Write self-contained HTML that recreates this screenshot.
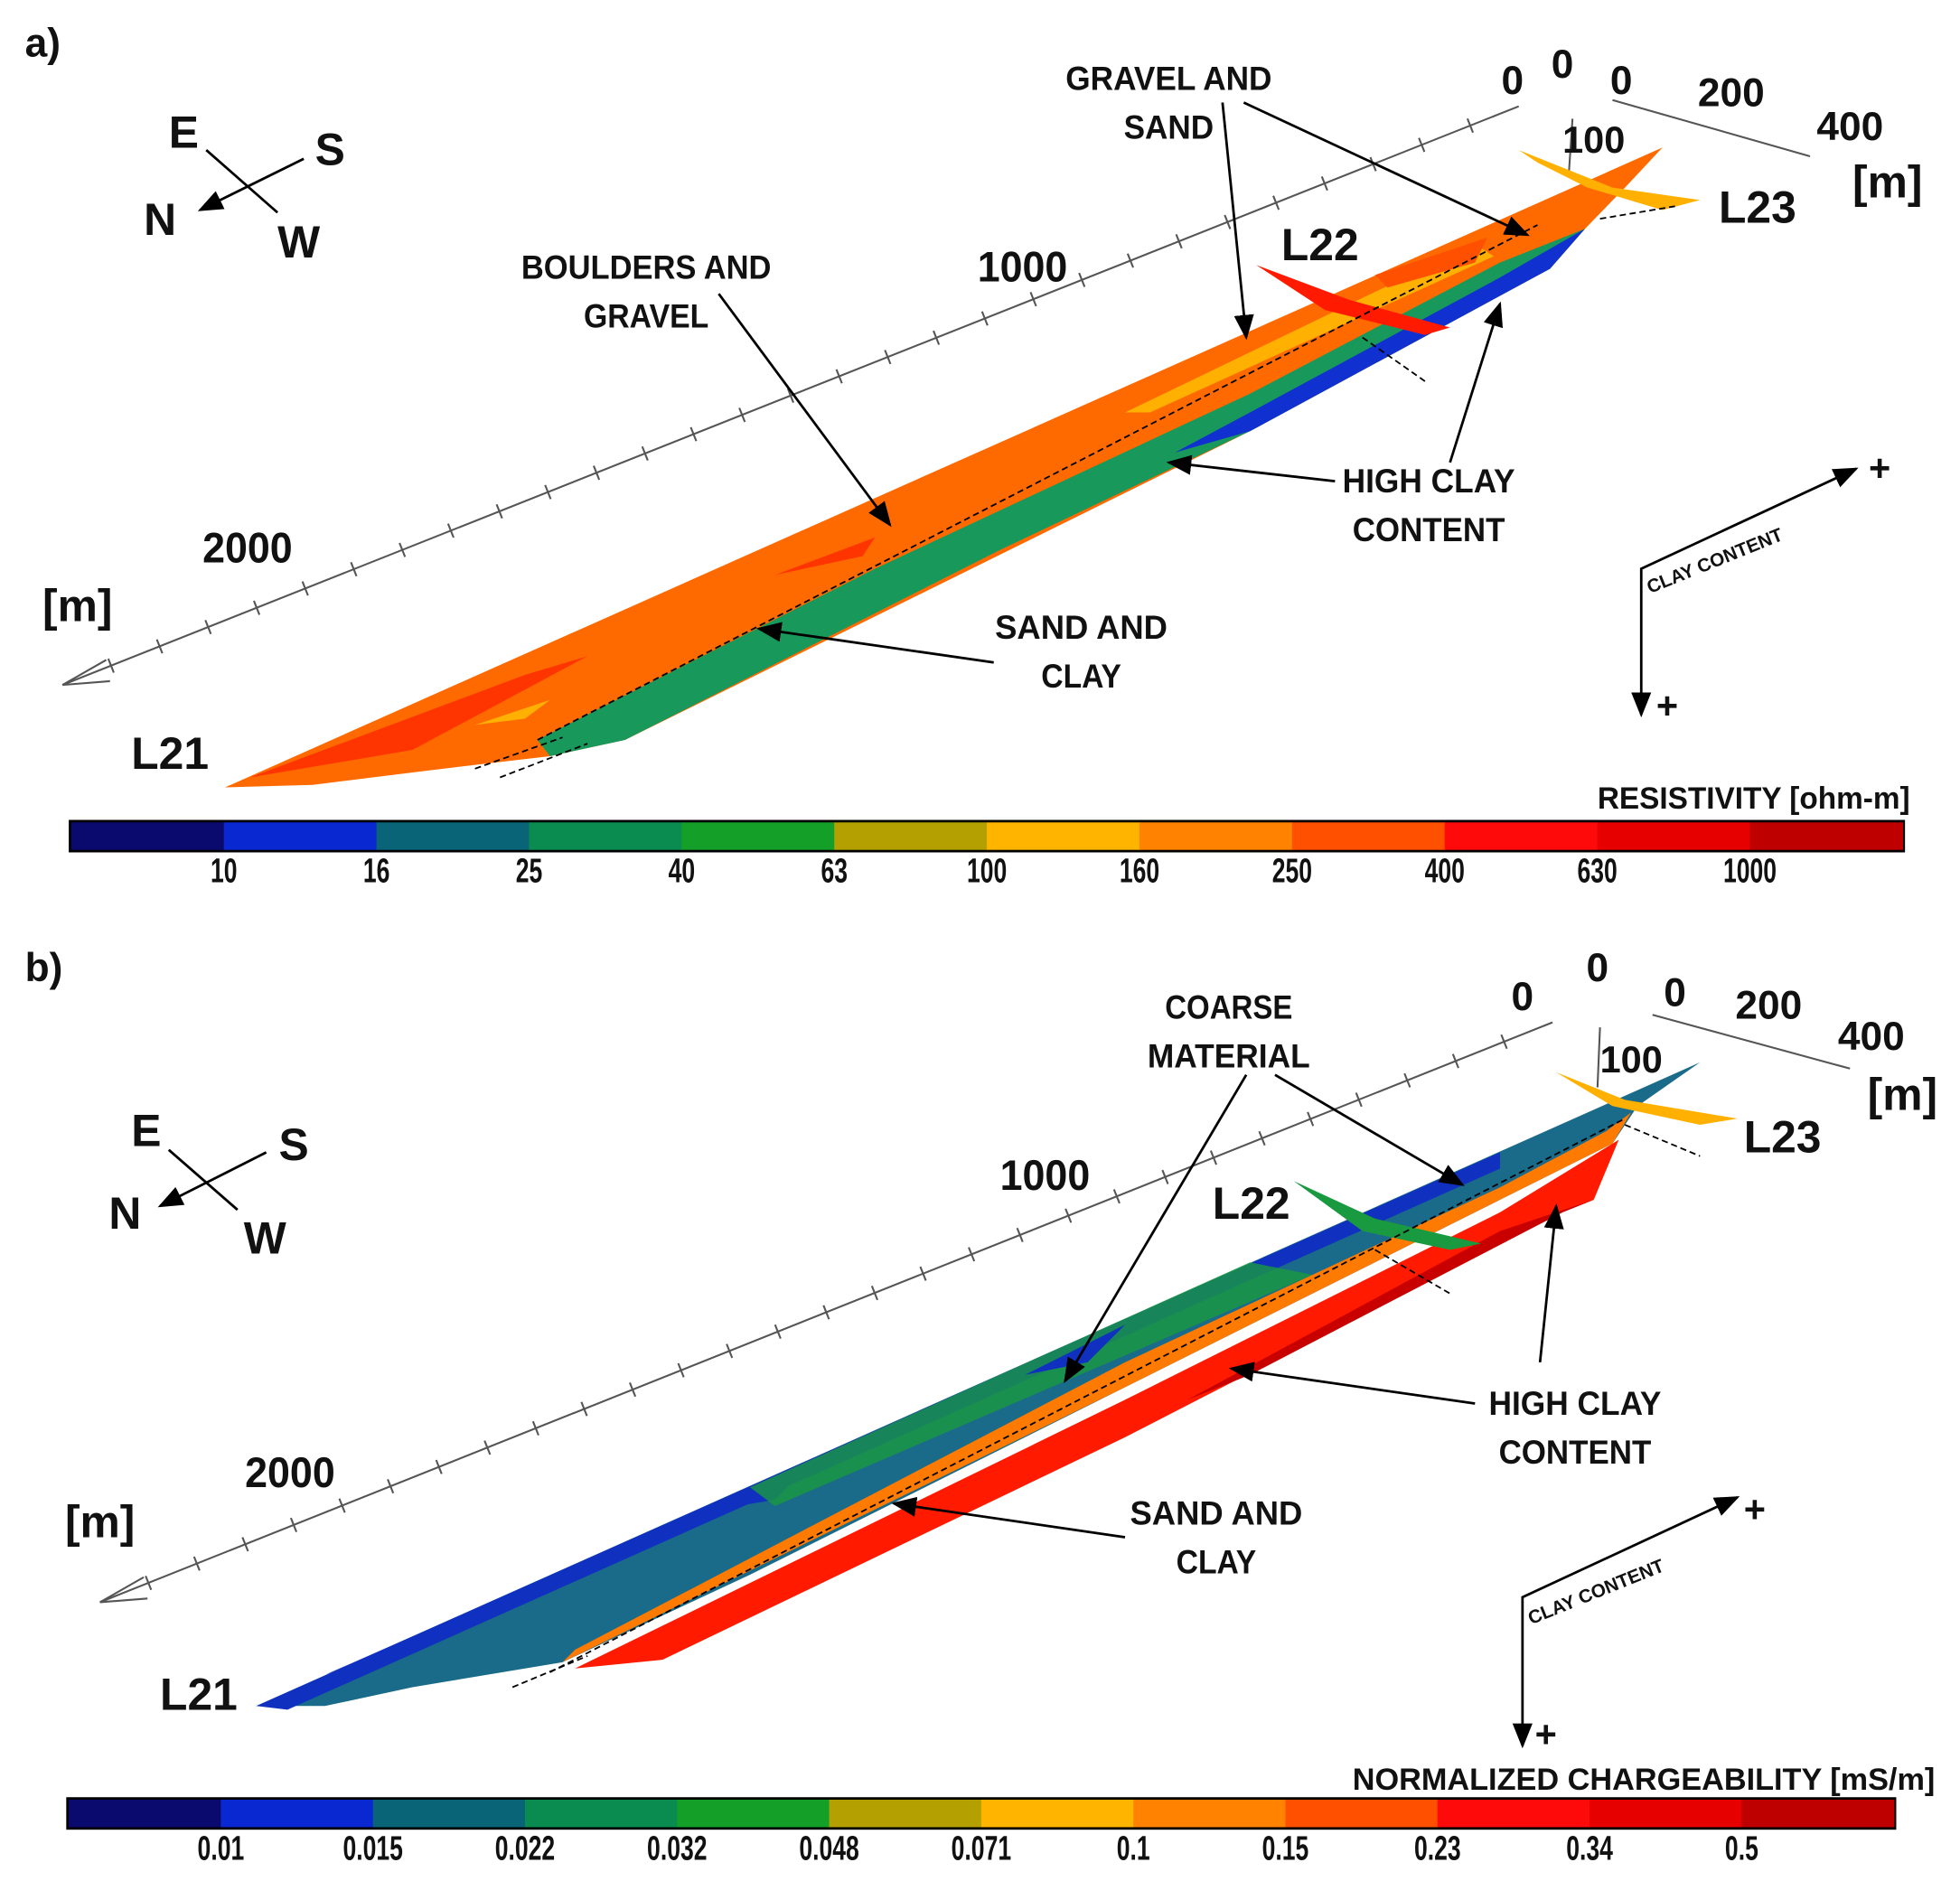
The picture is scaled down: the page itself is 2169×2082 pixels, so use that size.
<!DOCTYPE html>
<html><head><meta charset="utf-8"><style>
html,body{margin:0;padding:0;background:#fff;overflow:hidden}
svg{display:block}
text{font-family:"Liberation Sans Narrow","Liberation Sans",sans-serif;font-weight:bold;fill:#111}
</style></head><body>
<svg id="fig" width="2169" height="2082" viewBox="0 0 1568 1505" xmlns="http://www.w3.org/2000/svg">
<defs><marker id="ar" markerWidth="10" markerHeight="10" refX="9" refY="5" orient="auto"><path d="M0,1 L10,5 L0,9 z" fill="#000"/></marker></defs>

<!-- PANEL A -->
<g>
<text x="20" y="45" font-size="32">a)</text>
<g stroke="#000" stroke-width="2">
<line x1="165" y1="120" x2="222" y2="170"/><line x1="243" y1="127" x2="160" y2="168" marker-end="url(#ar)"/>
</g>
<text x="135" y="118" font-size="36">E</text>
<text x="252" y="132" font-size="36">S</text>
<text x="115" y="188" font-size="36">N</text>
<text x="222" y="206" font-size="36">W</text>

<g stroke="#555" stroke-width="1.5" fill="none">
<line x1="50" y1="548" x2="1215" y2="85"/><polyline points="85,528 50,548 88,545"/>
<line x1="1258" y1="95" x2="1255" y2="140"/><line x1="1290" y1="80" x2="1448" y2="125"/>
</g>
<g id="ticksA" stroke="#555" stroke-width="1.5"></g>
<text x="198" y="450" font-size="34" text-anchor="middle" textLength="72" lengthAdjust="spacingAndGlyphs">2000</text>
<text x="818" y="225" font-size="34" text-anchor="middle" textLength="72" lengthAdjust="spacingAndGlyphs">1000</text>
<text x="1210" y="75" font-size="32" text-anchor="middle">0</text>
<text x="1250" y="62" font-size="32" text-anchor="middle">0</text>
<text x="1297" y="75" font-size="32" text-anchor="middle">0</text>
<text x="1385" y="85" font-size="32" text-anchor="middle">200</text>
<text x="1480" y="112" font-size="32" text-anchor="middle">400</text>
<text x="1275" y="122" font-size="30" text-anchor="middle">100</text>
<text x="1510" y="158" font-size="36" text-anchor="middle">[m]</text>
<text x="62" y="497" font-size="36" text-anchor="middle">[m]</text>

<g>
<polygon points="180,630 1330,118 1300,150 1268,183 1240,215 1000,345 500,592 440,605 380,612 330,618 250,628" fill="#ff6a00"/>
<polygon points="430,592 700,455 1000,315 1200,210 1268,183 1240,215 1000,345 800,440 500,592 440,605" fill="#18985a"/>
<polygon points="940,362 1000,330 1200,222 1268,183 1240,215 1000,345" fill="#1030d0"/>
<polygon points="200,622 420,540 470,525 330,600" fill="#ff2000" opacity="0.7"/>
<polygon points="620,460 700,430 690,445" fill="#ff2000" opacity="0.7"/>
<polygon points="380,580 440,560 420,575" fill="#ffb000"/>
<polygon points="900,330 1180,195 1195,205 920,330" fill="#ffb000"/>
<polygon points="1100,220 1190,190 1180,210 1110,230" fill="#ff5000"/>
<polygon points="1215,120 1290,150 1360,160 1330,168 1270,150 1230,130" fill="#ffb000"/>
<polygon points="1005,212 1080,240 1160,262 1140,268 1060,248" fill="#ff1a00"/>
<line x1="430" y1="592" x2="1230" y2="180" stroke="#000" stroke-width="1.3" stroke-dasharray="5,3"/>
<line x1="380" y1="615" x2="450" y2="590" stroke="#000" stroke-width="1.3" stroke-dasharray="5,3"/>
<line x1="400" y1="622" x2="470" y2="595" stroke="#000" stroke-width="1.3" stroke-dasharray="5,3"/>
<line x1="1280" y1="175" x2="1340" y2="165" stroke="#000" stroke-width="1.3" stroke-dasharray="5,3"/>
<line x1="1090" y1="270" x2="1140" y2="305" stroke="#000" stroke-width="1.3" stroke-dasharray="5,3"/>
</g>
<text x="105" y="615" font-size="36">L21</text>
<text x="1025" y="208" font-size="36">L22</text>
<text x="1375" y="178" font-size="36">L23</text>

<g font-size="27" text-anchor="middle">
<text x="935" y="72" textLength="165" lengthAdjust="spacingAndGlyphs">GRAVEL AND</text>
<text x="935" y="111" textLength="72" lengthAdjust="spacingAndGlyphs">SAND</text>
<text x="517" y="223" textLength="200" lengthAdjust="spacingAndGlyphs">BOULDERS AND</text>
<text x="517" y="262" textLength="100" lengthAdjust="spacingAndGlyphs">GRAVEL</text>
<text x="1143" y="394" textLength="138" lengthAdjust="spacingAndGlyphs">HIGH CLAY</text>
<text x="1143" y="433" textLength="122" lengthAdjust="spacingAndGlyphs">CONTENT</text>
<text x="865" y="511" textLength="138" lengthAdjust="spacingAndGlyphs">SAND AND</text>
<text x="865" y="550" textLength="64" lengthAdjust="spacingAndGlyphs">CLAY</text>
</g>
<g stroke="#000" stroke-width="2" fill="none">
<line x1="978" y1="82" x2="997" y2="270" marker-end="url(#ar)"/>
<line x1="995" y1="82" x2="1222" y2="188" marker-end="url(#ar)"/>
<line x1="575" y1="235" x2="712" y2="420" marker-end="url(#ar)"/>
<line x1="1068" y1="385" x2="935" y2="370" marker-end="url(#ar)"/>
<line x1="1160" y1="370" x2="1200" y2="243" marker-end="url(#ar)"/>
<line x1="795" y1="530" x2="607" y2="503" marker-end="url(#ar)"/>
</g>
<g stroke="#000" stroke-width="2" fill="none">
<polyline points="1313,570 1313,455 1485,375" marker-end="url(#ar)"/>
<line x1="1313" y1="560" x2="1313" y2="572" marker-end="url(#ar)"/>
</g>
<text x="1320" y="475" font-size="15" transform="rotate(-22 1320 475)">CLAY CONTENT</text>
<text x="1495" y="385" font-size="30">+</text>
<text x="1325" y="575" font-size="30">+</text>

<text x="1528" y="647" font-size="25" text-anchor="end" textLength="250" lengthAdjust="spacingAndGlyphs">RESISTIVITY [ohm-m]</text>
<g id="cbarA"></g>
</g>

<!-- PANEL B -->
<g>
<text x="20" y="785" font-size="32">b)</text>
<g stroke="#000" stroke-width="2">
<line x1="135" y1="920" x2="190" y2="968"/><line x1="213" y1="922" x2="128" y2="965" marker-end="url(#ar)"/>
</g>
<text x="105" y="917" font-size="36">E</text>
<text x="223" y="928" font-size="36">S</text>
<text x="87" y="983" font-size="36">N</text>
<text x="195" y="1003" font-size="36">W</text>

<g stroke="#555" stroke-width="1.5" fill="none">
<line x1="80" y1="1282" x2="1242" y2="818"/><polyline points="115,1262 80,1282 118,1279"/>
<line x1="1280" y1="822" x2="1278" y2="870"/><line x1="1322" y1="812" x2="1480" y2="855"/>
</g>
<g id="ticksB" stroke="#555" stroke-width="1.5"></g>
<text x="232" y="1190" font-size="34" text-anchor="middle" textLength="72" lengthAdjust="spacingAndGlyphs">2000</text>
<text x="836" y="952" font-size="34" text-anchor="middle" textLength="72" lengthAdjust="spacingAndGlyphs">1000</text>
<text x="1218" y="808" font-size="32" text-anchor="middle">0</text>
<text x="1278" y="785" font-size="32" text-anchor="middle">0</text>
<text x="1340" y="805" font-size="32" text-anchor="middle">0</text>
<text x="1415" y="815" font-size="32" text-anchor="middle">200</text>
<text x="1497" y="840" font-size="32" text-anchor="middle">400</text>
<text x="1305" y="858" font-size="30" text-anchor="middle">100</text>
<text x="1522" y="888" font-size="36" text-anchor="middle">[m]</text>
<text x="80" y="1230" font-size="36" text-anchor="middle">[m]</text>

<g>
<polygon points="205,1365 1360,850 1310,885 1290,915 1200,960 900,1110 600,1260 450,1330 330,1350 260,1365" fill="#1a6a8a"/>
<polygon points="205,1365 1200,922 1200,935 230,1368" fill="#1030c0"/>
<polygon points="260,1340 420,1270 380,1300" fill="#1030c0" opacity="0.7"/>
<polygon points="560,1210 640,1180 620,1200" fill="#1030c0"/>
<polygon points="600,1190 1000,1010 1050,1020 620,1205" fill="#1a9a40" opacity="0.8"/>
<polygon points="820,1100 900,1060 870,1090" fill="#1030c0"/>
<polygon points="450,1330 900,1110 1200,960 1290,915 1305,890 1285,905 1200,950 900,1090 460,1320" fill="#ff7a00"/>
<polygon points="460,1335 900,1120 1200,970 1295,912 1275,960 1250,970 900,1150 530,1328" fill="#ff1a00"/>
<polygon points="950,1120 1200,985 1275,960 1250,970 1000,1100" fill="#c80000"/>
<polygon points="1245,858 1300,880 1390,895 1360,900 1290,885" fill="#ffb000"/>
<polygon points="1035,945 1100,975 1185,995 1160,1000 1090,985" fill="#1a9a40"/>
<line x1="440" y1="1338" x2="1300" y2="895" stroke="#000" stroke-width="1.3" stroke-dasharray="5,3"/>
<line x1="410" y1="1350" x2="470" y2="1325" stroke="#000" stroke-width="1.3" stroke-dasharray="5,3"/>
<line x1="1300" y1="900" x2="1360" y2="925" stroke="#000" stroke-width="1.3" stroke-dasharray="5,3"/>
<line x1="1100" y1="1000" x2="1160" y2="1035" stroke="#000" stroke-width="1.3" stroke-dasharray="5,3"/>
</g>
<text x="128" y="1368" font-size="36">L21</text>
<text x="970" y="975" font-size="36">L22</text>
<text x="1395" y="922" font-size="36">L23</text>
<g font-size="27" text-anchor="middle">
<text x="983" y="815" textLength="102" lengthAdjust="spacingAndGlyphs">COARSE</text>
<text x="983" y="854" textLength="130" lengthAdjust="spacingAndGlyphs">MATERIAL</text>
<text x="1260" y="1132" textLength="138" lengthAdjust="spacingAndGlyphs">HIGH CLAY</text>
<text x="1260" y="1171" textLength="122" lengthAdjust="spacingAndGlyphs">CONTENT</text>
<text x="973" y="1220" textLength="138" lengthAdjust="spacingAndGlyphs">SAND AND</text>
<text x="973" y="1259" textLength="64" lengthAdjust="spacingAndGlyphs">CLAY</text>
</g>
<g stroke="#000" stroke-width="2" fill="none">
<line x1="997" y1="860" x2="852" y2="1105" marker-end="url(#ar)"/>
<line x1="1020" y1="860" x2="1170" y2="948" marker-end="url(#ar)"/>
<line x1="1180" y1="1123" x2="985" y2="1095" marker-end="url(#ar)"/>
<line x1="1232" y1="1090" x2="1245" y2="965" marker-end="url(#ar)"/>
<line x1="900" y1="1230" x2="715" y2="1203" marker-end="url(#ar)"/>
</g>
<g stroke="#000" stroke-width="2" fill="none">
<polyline points="1218,1395 1218,1278 1390,1198" marker-end="url(#ar)"/>
<line x1="1218" y1="1385" x2="1218" y2="1397" marker-end="url(#ar)"/>
</g>
<text x="1225" y="1300" font-size="15" transform="rotate(-22 1225 1300)">CLAY CONTENT</text>
<text x="1395" y="1218" font-size="30">+</text>
<text x="1228" y="1398" font-size="30">+</text>
<text x="1548" y="1432" font-size="25" text-anchor="end" textLength="466" lengthAdjust="spacingAndGlyphs">NORMALIZED CHARGEABILITY [mS/m]</text>
<g id="cbarB"></g>
</g>
</svg>
<script>
const binColors = ["#0a0a6e","#0a28d2","#0a6478","#0a8c50","#14a028","#b4a000","#ffb400","#ff8200","#ff5000","#ff0a0a","#e60000","#be0000"];
const resistivityTicks = ["10","16","25","40","63","100","160","250","400","630","1000"];
const chargeabilityTicks = ["0.01","0.015","0.022","0.032","0.048","0.071","0.1","0.15","0.23","0.34","0.5"];
const axisTicksA = 30, axisTicksB = 30;
const NS="http://www.w3.org/2000/svg";
function mk(t,a,p){const e=document.createElementNS(NS,t);for(const k in a)e.setAttribute(k,a[k]);p.appendChild(e);return e;}
function cbar(g,x0,x1,y,h,ticks,name){
  const n=binColors.length,w=(x1-x0)/n;
  mk('rect',{x:x0-2,y:y-2,width:x1-x0+4,height:h+4,fill:'#000'},g);
  binColors.forEach((c,i)=>{const r=mk('rect',{x:x0+i*w,y:y,width:w+0.5,height:h,fill:c},g);
    
    });
  ticks.forEach((t,i)=>{const tx=mk('text',{x:0,y:0,'font-size':24,'text-anchor':'middle',transform:'translate('+(x0+(i+1)*w)+','+(y+h+26)+') scale(0.8,1.15)'},g);tx.textContent=t;
    
    });
}
cbar(document.getElementById('cbarA'),57,1522,658,22,resistivityTicks,'resistivity');
cbar(document.getElementById('cbarB'),55,1515,1440,22,chargeabilityTicks,'chargeability');
function ticks(g,x0,y0,x1,y1,n){
  const dx=x1-x0,dy=y1-y0,L=Math.hypot(dx,dy),nx=-dy/L*6,ny=dx/L*6;
  for(let i=1;i<n;i++){const x=x0+dx*i/n,y=y0+dy*i/n;
    const l=mk('line',{x1:x-nx,y1:y-ny,x2:x+nx,y2:y+ny},g);
    
    }
}
ticks(document.getElementById('ticksA'),50,548,1215,85,axisTicksA);
ticks(document.getElementById('ticksB'),80,1282,1242,818,axisTicksB);
</script>
</body></html>
